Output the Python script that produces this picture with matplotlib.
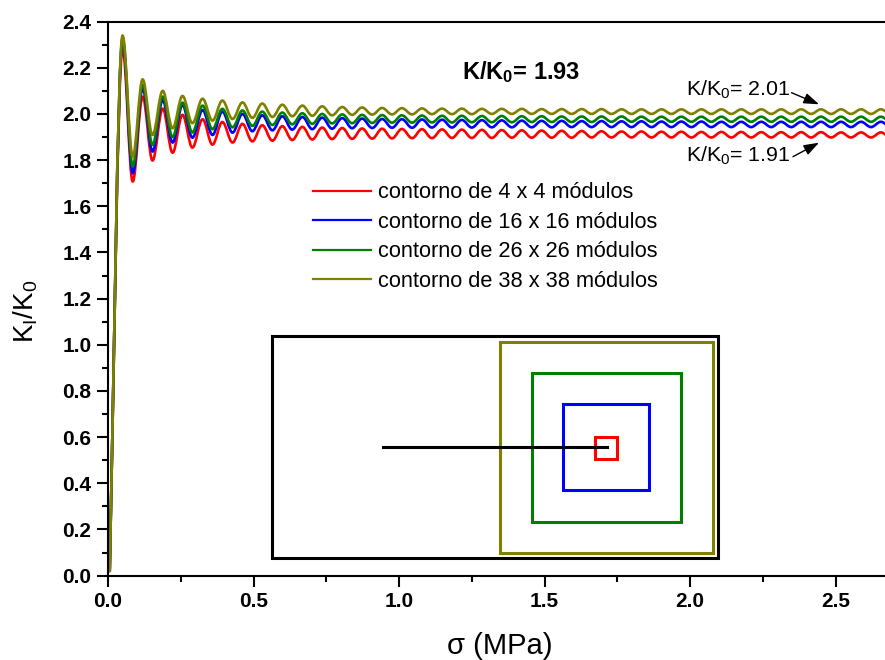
"""
Normalised K_I/K_0 against sigma for four contour sizes, with a sketch of the contours.
OUTPUT: out.png
"""

import matplotlib
matplotlib.use("Agg")
import matplotlib.pyplot as plt
from matplotlib.lines import Line2D
from matplotlib.patches import PathPatch, Rectangle
from matplotlib.path import Path
from matplotlib.ticker import MultipleLocator

plt.rcParams["font.family"] = ["Liberation Sans", "DejaVu Sans"]
plt.rcParams["mathtext.fontset"] = "custom"
plt.rcParams["mathtext.rm"] = "Liberation Sans"
plt.rcParams["mathtext.it"] = "Liberation Sans"
plt.rcParams["mathtext.bf"] = "Liberation Sans:bold"
plt.rcParams["mathtext.default"] = "regular"

# ─── Data: peaks and troughs of each curve ────────────────────────────────────
sigma_start = 0.006
ratio_start = 0.02

sigma_ext = [
    0.050, 0.085, 0.119, 0.153, 0.188, 0.222, 0.256, 0.290, 0.325, 0.359,
    0.393, 0.428, 0.462, 0.496, 0.530, 0.565, 0.599, 0.633, 0.668, 0.702,
    0.736, 0.770, 0.805, 0.839, 0.873, 0.908, 0.942, 0.976, 1.010, 1.045,
    1.079, 1.113, 1.148, 1.182, 1.216, 1.250, 1.285, 1.319, 1.353, 1.388,
    1.422, 1.456, 1.490, 1.525, 1.559, 1.593, 1.628, 1.662, 1.696, 1.730,
    1.765, 1.799, 1.833, 1.868, 1.902, 1.936, 1.970, 2.005, 2.039, 2.073,
    2.108, 2.142, 2.176, 2.210, 2.245, 2.279, 2.313, 2.348, 2.382, 2.416,
    2.450, 2.485, 2.519, 2.553, 2.588, 2.622, 2.656, 2.690,
]

ratio_4 = [
    2.285, 1.707, 2.075, 1.798, 2.023, 1.832, 1.996, 1.854, 1.977, 1.867,
    1.965, 1.876, 1.957, 1.881, 1.951, 1.884, 1.947, 1.887, 1.944, 1.889,
    1.941, 1.891, 1.939, 1.892, 1.937, 1.893, 1.936, 1.894, 1.935, 1.895,
    1.934, 1.895, 1.933, 1.896, 1.932, 1.896, 1.931, 1.896, 1.930, 1.897,
    1.929, 1.897, 1.928, 1.897, 1.927, 1.897, 1.926, 1.898, 1.925, 1.898,
    1.924, 1.898, 1.924, 1.898, 1.923, 1.898, 1.923, 1.898, 1.922, 1.898,
    1.922, 1.898, 1.922, 1.898, 1.921, 1.898, 1.921, 1.898, 1.921, 1.898,
    1.921, 1.898, 1.920, 1.898, 1.920, 1.898, 1.920, 1.898,
]
ratio_16 = [
    2.320, 1.743, 2.111, 1.837, 2.060, 1.876, 2.039, 1.897, 2.017, 1.909,
    2.010, 1.919, 2.000, 1.925, 1.994, 1.929, 1.990, 1.932, 1.987, 1.934,
    1.984, 1.936, 1.982, 1.938, 1.980, 1.939, 1.978, 1.940, 1.977, 1.940,
    1.976, 1.941, 1.975, 1.941, 1.974, 1.941, 1.973, 1.942, 1.972, 1.942,
    1.971, 1.942, 1.970, 1.942, 1.970, 1.943, 1.969, 1.943, 1.969, 1.943,
    1.968, 1.943, 1.968, 1.943, 1.967, 1.943, 1.967, 1.943, 1.967, 1.943,
    1.966, 1.943, 1.966, 1.943, 1.966, 1.943, 1.966, 1.943, 1.966, 1.943,
    1.966, 1.943, 1.966, 1.943, 1.966, 1.943, 1.966, 1.943,
]
ratio_26 = [
    2.330, 1.772, 2.126, 1.866, 2.075, 1.900, 2.049, 1.920, 2.036, 1.934,
    2.022, 1.942, 2.015, 1.948, 2.010, 1.952, 2.006, 1.955, 2.003, 1.957,
    2.000, 1.959, 1.998, 1.960, 1.996, 1.961, 1.995, 1.962, 1.994, 1.962,
    1.993, 1.963, 1.992, 1.963, 1.992, 1.964, 1.991, 1.964, 1.991, 1.964,
    1.990, 1.965, 1.990, 1.965, 1.989, 1.965, 1.989, 1.965, 1.989, 1.966,
    1.989, 1.966, 1.988, 1.966, 1.988, 1.966, 1.988, 1.966, 1.988, 1.966,
    1.988, 1.966, 1.988, 1.966, 1.988, 1.966, 1.988, 1.966, 1.988, 1.966,
    1.988, 1.966, 1.988, 1.966, 1.988, 1.966, 1.988, 1.966,
]
ratio_38 = [
    2.340, 1.815, 2.150, 1.909, 2.100, 1.938, 2.078, 1.960, 2.066, 1.971,
    2.058, 1.978, 2.050, 1.983, 2.045, 1.987, 2.040, 1.990, 2.036, 1.992,
    2.033, 1.994, 2.030, 1.996, 2.028, 1.997, 2.026, 1.998, 2.025, 1.998,
    2.024, 1.999, 2.023, 1.999, 2.023, 1.999, 2.022, 2.000, 2.022, 2.000,
    2.022, 2.000, 2.021, 2.000, 2.021, 2.000, 2.021, 2.000, 2.021, 2.000,
    2.020, 2.000, 2.020, 2.000, 2.020, 2.000, 2.020, 2.000, 2.020, 2.000,
    2.020, 2.000, 2.020, 2.000, 2.020, 2.000, 2.020, 2.000, 2.020, 2.000,
    2.020, 2.000, 2.020, 2.000, 2.020, 2.000, 2.020, 2.000,
]

labels = ["contorno de 4 x 4 módulos", "contorno de 16 x 16 módulos",
          "contorno de 26 x 26 módulos", "contorno de 38 x 38 módulos"]
colors = ["#ff0000", "#0000ff", "#008000", "#808000"]

# contour sketch, as left, right, bottom, top
box_outer = (0.5636, 2.096, 0.076, 1.038)
box_38 = (1.347, 2.079, 0.098, 1.012)
box_26 = (1.457, 1.969, 0.232, 0.878)
box_16 = (1.564, 1.859, 0.371, 0.744)
box_4 = (1.674, 1.749, 0.505, 0.600)
crack_x = [0.945, 1.715]
crack_y = [0.557, 0.557]


def curve_path(ys):
    # cubic segments between extremes, flat at each peak and trough
    verts = [(sigma_start, ratio_start)]
    codes = [Path.MOVETO]
    xs = [sigma_start] + sigma_ext
    ys = [ratio_start] + ys
    for i in range(len(xs) - 1):
        dx = xs[i + 1] - xs[i]
        c0 = (xs[i] + 0.3642 * dx, ys[i]) if i > 0 else (xs[i] + 0.25 * dx, ys[i] + 0.6)
        c1 = (xs[i + 1] - 0.3642 * dx, ys[i + 1])
        verts += [c0, c1, (xs[i + 1], ys[i + 1])]
        codes += [Path.CURVE4, Path.CURVE4, Path.CURVE4]
    return Path(verts, codes)


# ─── Figure ───────────────────────────────────────────────────────────────────
fig = plt.figure(figsize=(8.85, 6.6), dpi=100)
ax = fig.add_axes([108 / 885, (660 - 575.6) / 660, (885 - 108) / 885, (575.6 - 21.6) / 660])
ax.set_xlim(0, 777 / 291)
ax.set_ylim(0, 2.4)

series = [ratio_4, ratio_16, ratio_26, ratio_38]
for ys, c in zip(series, colors):
    ax.add_patch(PathPatch(curve_path(ys), fill=False, edgecolor=c, linewidth=1.9,
                           joinstyle="round", capstyle="round"))

for (x0, x1, y0, y1), c in zip([box_outer, box_38, box_26, box_16, box_4],
                               ["black", colors[3], colors[2], colors[1], colors[0]]):
    ax.add_patch(Rectangle((x0, y0), x1 - x0, y1 - y0, fill=False, edgecolor=c,
                           linewidth=2.2, joinstyle="miter"))
ax.plot(crack_x, crack_y, color="black", linewidth=2.2)

# axes
ax.spines["right"].set_visible(False)
for s in ["left", "bottom", "top"]:
    ax.spines[s].set_linewidth(1.5)
ax.xaxis.set_major_locator(MultipleLocator(0.5))
ax.xaxis.set_minor_locator(MultipleLocator(0.25))
ax.yaxis.set_major_locator(MultipleLocator(0.2))
ax.yaxis.set_minor_locator(MultipleLocator(0.1))
ax.tick_params(which="major", direction="out", length=8, width=1.5, pad=4)
ax.tick_params(which="minor", direction="out", length=4.3, width=1.5)
ax.tick_params(axis="both", which="major", labelsize=15)
for t in ax.get_xticklabels() + ax.get_yticklabels():
    t.set_fontweight("bold")

fig.text(500 / 885, 1 - 646 / 660, "σ (MPa)", fontsize=21, ha="center", va="center")
fig.text(26 / 885, 1 - 311 / 660, "K$_I$/K$_0$", fontsize=20, rotation=90,
         ha="center", va="center")

# legend
handles = [Line2D([], [], color=c, linewidth=1.6) for c in colors]
ax.legend(handles, labels, loc="upper left", frameon=False, fontsize=15.7,
          bbox_to_anchor=((313 - 108) / 777, (575.6 - 182.5) / 554),
          handlelength=2.66, handletextpad=0.3, labelspacing=0.385,
          borderpad=0.0, borderaxespad=0.0)

# annotations
fig.text(462 / 885, 1 - 72 / 660, "K/K$_0$= 1.93", fontsize=17, fontweight="bold",
         ha="left", va="center")
fig.text(686 / 885, 1 - 89.5 / 660, "K/K$_0$= 2.01", fontsize=15.4, ha="left", va="center")
fig.text(686 / 885, 1 - 156 / 660, "K/K$_0$= 1.91", fontsize=15.4, ha="left", va="center")
arrow = dict(arrowstyle="-|>,head_length=0.4,head_width=0.14", color="black", linewidth=1,
             mutation_scale=23, shrinkA=0, shrinkB=0)
ax.annotate("", xy=(819 / 885, 1 - 104.3 / 660), xytext=(791.5 / 885, 1 - 92.7 / 660),
            xycoords="figure fraction", textcoords="figure fraction", arrowprops=arrow)
ax.annotate("", xy=(819 / 885, 1 - 142.7 / 660), xytext=(793 / 885, 1 - 156.7 / 660),
            xycoords="figure fraction", textcoords="figure fraction", arrowprops=arrow)

fig.savefig("out.png", dpi=100)
